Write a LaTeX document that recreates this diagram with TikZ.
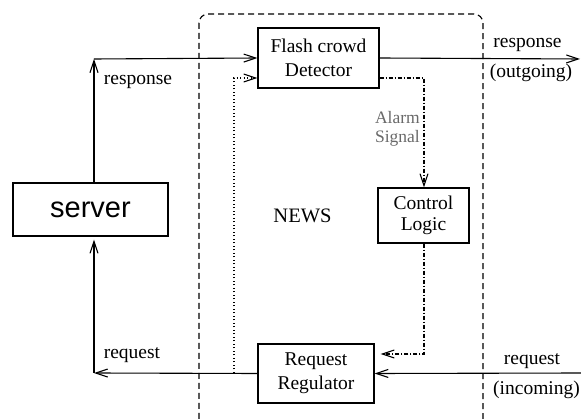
\documentclass[tikz,border=0pt]{standalone}
\usepackage{fontspec}
\setmainfont{Liberation Serif}
\newfontfamily\srvfont{Liberation Sans}
\usetikzlibrary{arrows.meta}
\definecolor{alarmgray}{RGB}{105,105,105}
\begin{document}
\begin{tikzpicture}[x=1pt,y=-1pt,
  lw/.style={line width=1.1pt},
  box/.style={draw,line width=1.1pt,inner sep=0pt,align=center,font=\fontsize{19.5}{24}\selectfont},
  lbl/.style={inner sep=0pt,font=\fontsize{19.5}{24}\selectfont,anchor=base},
  alm/.style={inner sep=0pt,anchor=base east,text=alarmgray,font=\fontsize{17.5}{19}\selectfont},
  arr/.style={-{Straight Barb[length=12pt,width=8pt]}},
  dashdot/.style={dash pattern=on 4pt off 2pt on 1pt off 2pt},
  dotline/.style={dash pattern=on 1pt off 2.5pt},
]
\useasboundingbox (0,0) rectangle (581,419);
\clip (0,0) rectangle (581,419);

% NEWS boundary
\draw[lw,dash pattern=on 6pt off 4pt,rounded corners=9pt] (199,14) rectangle (483,428);

% boxes
\node[box,minimum width=155pt,minimum height=53pt,font=\srvfont\fontsize{29}{30}\selectfont] (server) at (90.5,209.5) {server};
\node[box,minimum width=121pt,minimum height=60pt] (flash) at (318.5,58) {Flash crowd\\Detector};
\node[box,minimum width=91pt,minimum height=55pt,font=\fontsize{19.5}{21}\selectfont] (ctrl) at (423.5,215.5) {Control\\Logic};
\node[box,minimum width=116pt,minimum height=59pt] (reg) at (316,373.5) {Request\\Regulator};

% helper coordinates
\coordinate (ctop) at (94,59);
\coordinate (cbot) at (94,373);
\coordinate (outR) at (580,59);
\coordinate (inR) at (582,373);
\coordinate (dotc) at (234,78);
\coordinate (dotb) at (234,373);
\coordinate (alarmc) at (424,78);
\coordinate (ctrlb) at (424,354);

% solid connectors
\draw[lw,arr] (server.north -| ctop) -- (ctop);
\draw[lw,arr] (ctop) -- (flash.west);
\draw[lw,arr] (flash.east) -- (outR);
\draw[lw,arr] (inR) -- (reg.east);
\draw[lw,arr] (reg.west) -- (cbot);
\draw[lw,arr,shorten >=3pt] (cbot) -- (server.south -| cbot);

% dotted feedback
\draw[lw,dotline,arr] (dotb) -- (dotc) -- (flash.west |- dotc);

% alarm path
\draw[lw,dashdot,arr] (flash.east |- alarmc) -- (alarmc) -- (ctrl.north -| alarmc);
\draw[lw,dashdot,arr,shorten >=6pt] (ctrl.south -| alarmc) -- (ctrlb) -- (reg.east |- ctrlb);

% labels
\node[lbl] (lresp) at (138,85) {response};
\node[lbl] (lreq) at (132,359) {request};
\node[lbl] (oresp) at (527.5,48) {response};
\node[lbl] (oout) at (531,78) {(outgoing)};
\node[lbl] (ireq) at (532,365) {request};
\node[lbl] (iinc) at (536.5,395) {(incoming)};
\node[lbl,font=\fontsize{20.5}{24}\selectfont] (news) at (302.5,223) {NEWS};
\node[alm] (alarm) at (420,124) {Alarm};
\node[alm] (signal) at (420,143) {Signal};
\end{tikzpicture}
\end{document}
